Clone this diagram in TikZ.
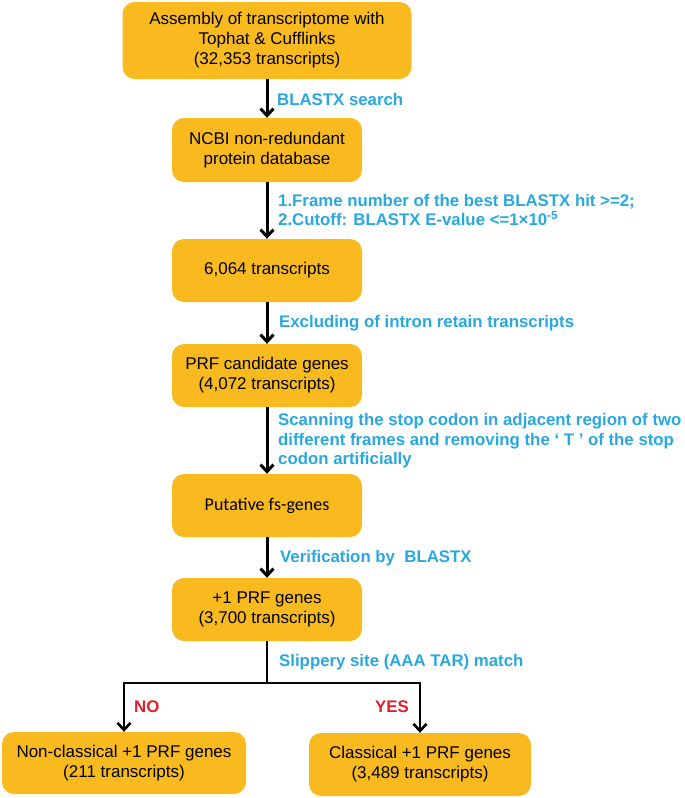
\documentclass[tikz,border=0pt]{standalone}
\usepackage{fontspec}
\setmainfont{Liberation Sans}
\newfontfamily\calibrifont{Carlito}
\usetikzlibrary{arrows.meta}
\definecolor{boxfill}{RGB}{248,186,30}
\definecolor{noteblue}{RGB}{41,168,224}
\definecolor{answerred}{RGB}{228,30,40}

\begin{document}
\begin{tikzpicture}[x=1pt,y=-1pt,
    box/.style={rectangle,rounded corners=12pt,fill=boxfill,align=center,minimum width=190pt,minimum height=63pt,inner sep=2pt,font=\fontsize{17}{20}\selectfont},
    arr/.style={line width=3pt,-{Straight Barb[length=7pt,width=13pt]}},
    note/.style={anchor=west,align=left,text=noteblue,inner sep=0pt,font=\bfseries\fontsize{16.8}{19.5}\selectfont},
    answer/.style={text=answerred,inner sep=0pt,font=\bfseries\fontsize{16.8}{20}\selectfont}]
    \useasboundingbox (0,0) rectangle (685,798);

    \node [box,minimum width=289pt,minimum height=77pt] (assembly) at (267,40.5) {Assembly of transcriptome with\\Tophat \& Cufflinks\\(32,353 transcripts)};
    \node [box,minimum height=64pt] (ncbi) at (267,150) {NCBI non-redundant\\protein database};
    \node [box] (hits) at (267,270.5) {6,064 transcripts};
    \node [box] (cand) at (267,375.5) {PRF candidate genes\\(4,072 transcripts)};
    \node [box] (putative) at (267,505.5) {\calibrifont\fontsize{18}{20}\selectfont Putative fs-genes};
    \node [box] (prf) at (267,609.5) {+1 PRF genes\\(3,700 transcripts)};
    \node [box,minimum width=244pt,minimum height=62pt] (noncl) at (124,763) {Non-classical +1 PRF genes\\(211 transcripts)};
    \node [box,minimum width=222pt] (classic) at (420,764.5) {Classical +1 PRF genes\\(3,489 transcripts)};
    \coordinate (fork) at (267,683);

    \draw [arr] (assembly) -- (ncbi);
    \draw [arr] (ncbi) -- (hits);
    \draw [arr] (hits) -- (cand);
    \draw [arr] (cand) -- (putative);
    \draw [arr] (putative) -- (prf);
    \draw [line width=2.6pt] (prf) -- (fork);
    \draw [arr,line width=2.6pt] (fork) -| (noncl.north);
    \draw [arr,line width=2.6pt] (fork) -| (classic.north);

    \node [note] (blastx) at (277,99) {BLASTX search};
    \node [note] (cutoff) at (278,210) {1.Frame number of the best BLASTX hit >=2;\\2.Cutoff: BLASTX E-value <=1×10\textsuperscript{-5}};
    \node [note] (intron) at (279,323) {Excluding of intron retain transcripts};
    \node [note] (scan) at (278,441) {Scanning the stop codon in adjacent region of two\\different frames and removing the ‘ T ’ of the stop\\codon artificially};
    \node [note] (verify) at (280,558) {Verification by\ \ BLASTX};
    \node [note] (slip) at (279,662) {Slippery site (AAA TAR) match};
    \node [answer,anchor=west] (no) at (134,707) {NO};
    \node [answer,anchor=east] (yes) at (409,707) {YES};
\end{tikzpicture}
\end{document}
